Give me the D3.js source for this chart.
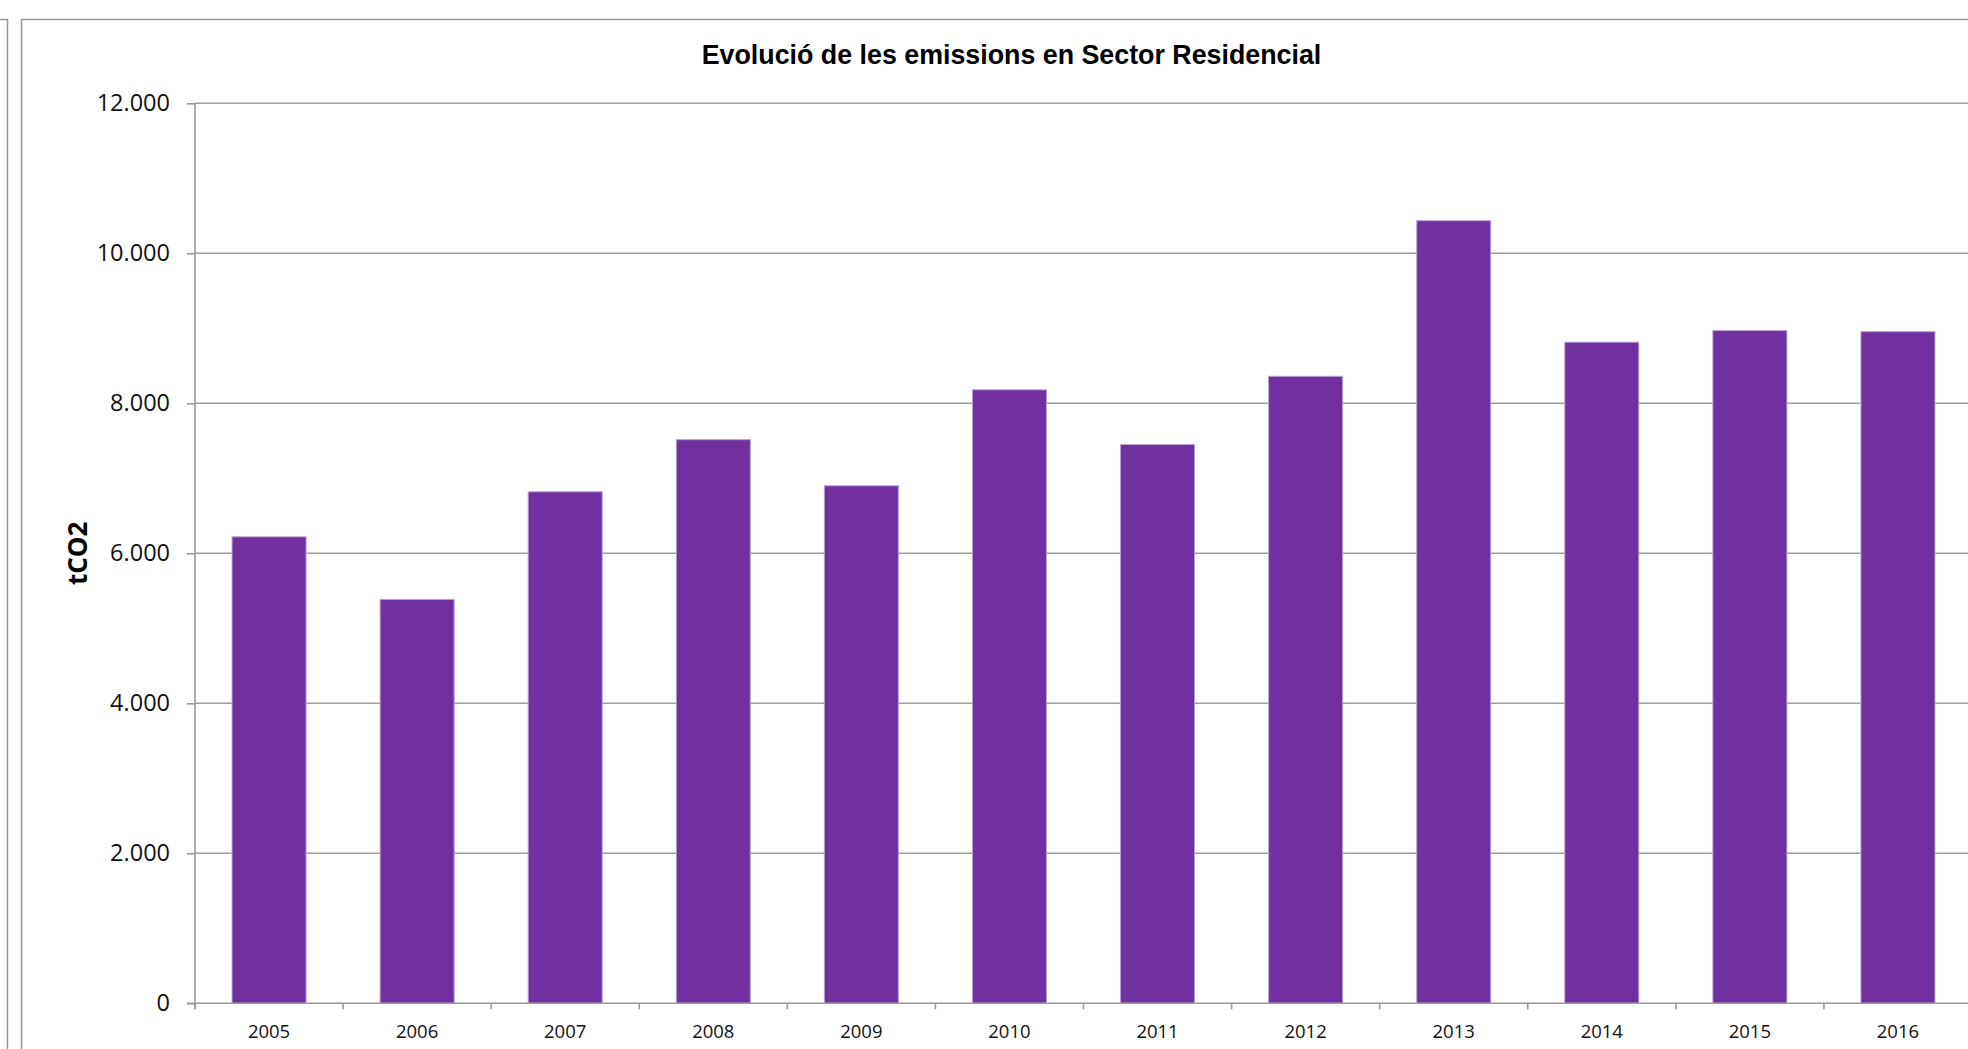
<!DOCTYPE html>
<html>
<head>
<meta charset="utf-8">
<script src="https://cdn.jsdelivr.net/npm/d3@7"></script>
<style>
  html, body { margin: 0; padding: 0; background: #ffffff; overflow: hidden; }
  svg { display: block; }
</style>
</head>
<body>
<svg id="chart" width="1968" height="1049"></svg>
<script>
// Residential sector CO2 emissions per year (tCO2)
const years = ["2005", "2006", "2007", "2008", "2009", "2010", "2011", "2012", "2013", "2014", "2015", "2016"];
const emissions = [6220, 5385, 6820, 7515, 6900, 8180, 7450, 8360, 10435, 8815, 8970, 8955];
const yTicks = [0, 2000, 4000, 6000, 8000, 10000, 12000];
const titleText = "Evolució de les emissions en Sector Residencial";
const yTitle = "tCO2";

const svg = d3.select("#chart");

const plot = { left: 195, right: 1972, top: 103.3, bottom: 1003.3 };

// Number format with a dot as thousands separator
const locale = d3.formatLocale({ decimal: ",", thousands: ".", grouping: [3], currency: ["", "€"] });
const fmt = locale.format(",d");

const x = d3.scaleBand()
  .domain(years)
  .range([plot.left, plot.right])
  .paddingInner(0.5)
  .paddingOuter(0.25);

const y = d3.scaleLinear()
  .domain([0, 12000])
  .range([plot.bottom, plot.top]);

// Outer frames
svg.append("path")
  .attr("d", "M0,19.5 H7.5 V1049")
  .attr("fill", "none")
  .attr("stroke", "#969696")
  .attr("stroke-width", 1.5);
svg.append("rect")
  .attr("x", 21.5).attr("y", 19.5)
  .attr("width", 2000).attr("height", 1100)
  .attr("fill", "#ffffff")
  .attr("stroke", "#969696")
  .attr("stroke-width", 1.5);

// Horizontal gridlines
svg.append("g")
  .selectAll("line")
  .data(yTicks.filter(d => d > 0))
  .join("line")
  .attr("x1", plot.left).attr("x2", plot.right)
  .attr("y1", d => y(d)).attr("y2", d => y(d))
  .attr("stroke", "#9e9e9e")
  .attr("stroke-width", 1.6);

// Bars
svg.append("g")
  .selectAll("rect")
  .data(years.map((yr, i) => ({ yr, v: emissions[i] })))
  .join("rect")
  .attr("x", d => x(d.yr))
  .attr("width", x.bandwidth())
  .attr("y", d => y(d.v))
  .attr("height", d => y(0) - y(d.v))
  .attr("fill", "#7030a0")
  .attr("stroke", "#b9a3d3")
  .attr("stroke-width", 1);

// Y axis
const yAxis = d3.axisLeft(y)
  .tickValues(yTicks)
  .tickFormat(d => fmt(d))
  .tickSize(8)
  .tickPadding(17);
const gy = svg.append("g")
  .attr("transform", `translate(${plot.left},0)`)
  .call(yAxis);
gy.select(".domain")
  .attr("d", `M0,${plot.top}V${plot.bottom + 6}`)
  .attr("stroke", "#9a9a9a")
  .attr("stroke-width", 1.6);
gy.selectAll(".tick line").attr("stroke", "#9a9a9a").attr("stroke-width", 1.6);
gy.selectAll(".tick text")
  .attr("fill", "#111111")
  .style("font-family", "'Open Sans', sans-serif")
  .style("font-size", "23.5px");

// X axis, ticks between categories
const gx = svg.append("g")
  .attr("transform", `translate(0,${plot.bottom})`);
gx.append("line")
  .attr("x1", plot.left - 8).attr("x2", plot.right)
  .attr("y1", 0).attr("y2", 0)
  .attr("stroke", "#9a9a9a")
  .attr("stroke-width", 1.6);
gx.selectAll("line.sep")
  .data(d3.range(years.length + 1))
  .join("line")
  .attr("class", "sep")
  .attr("x1", i => plot.left + i * x.step())
  .attr("x2", i => plot.left + i * x.step())
  .attr("y1", 0).attr("y2", 6)
  .attr("stroke", "#9a9a9a")
  .attr("stroke-width", 1.6);
gx.selectAll("text")
  .data(years)
  .join("text")
  .attr("x", d => x(d) + x.bandwidth() / 2)
  .attr("y", 35)
  .attr("text-anchor", "middle")
  .attr("fill", "#111111")
  .style("font-family", "'Open Sans', sans-serif")
  .style("font-size", "18.5px")
  .text(d => d);

// Y axis title
svg.append("text")
  .attr("transform", `translate(87,${(plot.top + plot.bottom) / 2}) rotate(-90)`)
  .attr("text-anchor", "middle")
  .attr("fill", "#000000")
  .style("font-family", "'Open Sans', sans-serif")
  .style("font-weight", "bold")
  .style("font-size", "26px")
  .text(yTitle);

// Chart title
svg.append("text")
  .attr("x", 1011.5)
  .attr("y", 64)
  .attr("text-anchor", "middle")
  .attr("fill", "#000000")
  .style("font-family", "'Liberation Sans', Arial, sans-serif")
  .style("font-weight", "bold")
  .style("font-size", "26.8px")
  .text(titleText);
</script>
</body>
</html>
